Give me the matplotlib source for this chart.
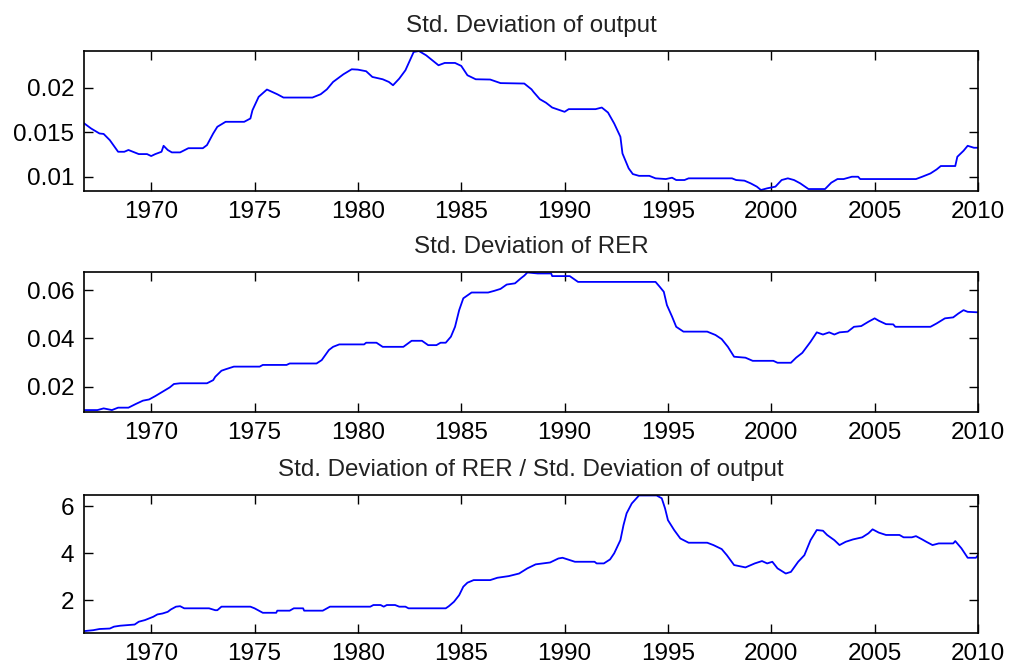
import matplotlib
matplotlib.use("Agg")
import matplotlib.pyplot as plt

# ---------------- data ----------------
titles = ["Std. Deviation of output",
          "Std. Deviation of RER",
          "Std. Deviation of RER / Std. Deviation of output"]

x_ticks = [1970, 1975, 1980, 1985, 1990, 1995, 2000, 2005, 2010]

out_years = [1966.75, 1967.1, 1967.5, 1967.7, 1968.0, 1968.4, 1968.7, 1968.9, 1969.4, 1969.8,
             1970.0, 1970.2, 1970.5, 1970.6, 1970.8, 1971.0, 1971.4, 1971.8, 1972.5, 1972.7,
             1973.0, 1973.2, 1973.6, 1974.5, 1974.8, 1974.9, 1975.2, 1975.6, 1976.1, 1976.4,
             1977.8, 1978.2, 1978.5, 1978.8, 1979.3, 1979.7, 1980.0, 1980.4, 1980.7, 1981.2,
             1981.5, 1981.7, 1982.0, 1982.3, 1982.7, 1982.95, 1983.3, 1983.6, 1983.9, 1984.2,
             1984.7, 1985.0, 1985.3, 1985.7, 1986.4, 1986.9, 1988.05, 1988.4, 1988.5, 1988.8,
             1989.1, 1989.4, 1990.0, 1990.2, 1991.5, 1991.8, 1992.1, 1992.4, 1992.7, 1992.8,
             1993.1, 1993.3, 1993.6, 1994.1, 1994.4, 1994.9, 1995.2, 1995.4, 1995.8, 1996.0,
             1998.1, 1998.3, 1998.7, 1999.0, 1999.3, 1999.5, 1999.8, 2000.2, 2000.5, 2000.8,
             2001.1, 2001.4, 2001.8, 2002.6, 2002.9, 2003.2, 2003.5, 2003.9, 2004.2, 2004.3,
             2007.0, 2007.3, 2007.7, 2008.0, 2008.2, 2008.9, 2009.0, 2009.3, 2009.5, 2009.8,
             2010.0]
out_std = [0.0160, 0.0154, 0.01485, 0.0148, 0.0141, 0.0128, 0.0128, 0.0130, 0.01254, 0.01254,
           0.01232, 0.01254, 0.0128, 0.01347, 0.0130, 0.01273, 0.01273, 0.0132, 0.0132, 0.01355,
           0.01485, 0.0156, 0.01616, 0.01616, 0.01653, 0.01746, 0.01896, 0.01978, 0.01925, 0.01888,
           0.01888, 0.01925, 0.0198, 0.02063, 0.02149, 0.02205, 0.02201, 0.02183, 0.02119, 0.02093,
           0.02063, 0.02026, 0.0210, 0.02194, 0.02399, 0.0241, 0.02362, 0.02306, 0.0225, 0.02276,
           0.02276, 0.02243, 0.02138, 0.02093, 0.02090, 0.02050, 0.02045, 0.0198, 0.0195, 0.0187,
           0.0183, 0.01776, 0.01728, 0.01758, 0.01758, 0.01776, 0.0172, 0.01597, 0.01448, 0.01261,
           0.01094, 0.0103, 0.0101, 0.0101, 0.00982, 0.00974, 0.00989, 0.00963, 0.00963, 0.00982,
           0.00982, 0.00963, 0.00956, 0.00926, 0.00889, 0.00851, 0.0087, 0.00889, 0.00963, 0.00982,
           0.00963, 0.00926, 0.00862, 0.00862, 0.00933, 0.00974, 0.00974, 0.0100, 0.0100, 0.00974,
           0.00974, 0.0100, 0.01037, 0.01082, 0.0112, 0.0112, 0.01224, 0.01291, 0.01347, 0.01325,
           0.01325]

rer_years = [1966.75, 1967.4, 1967.7, 1968.1, 1968.4, 1968.9, 1969.25, 1969.6, 1969.9, 1970.2,
             1970.55, 1970.9, 1971.1, 1971.4, 1972.7, 1973.0, 1973.1, 1973.4, 1973.6, 1974.0,
             1975.25, 1975.4, 1976.55, 1976.7, 1978.0, 1978.25, 1978.6, 1978.8, 1979.1, 1980.3,
             1980.4, 1980.9, 1981.2, 1982.2, 1982.6, 1983.1, 1983.4, 1983.8, 1984.0, 1984.25,
             1984.5, 1984.7, 1984.9, 1985.1, 1985.5, 1986.3, 1986.6, 1986.9, 1987.2, 1987.6,
             1987.9, 1988.05, 1988.2, 1988.7, 1989.35, 1989.4, 1990.25, 1990.65, 1994.4, 1994.6,
             1994.8, 1994.95, 1995.2, 1995.4, 1995.75, 1996.9, 1997.3, 1997.6, 1997.9, 1998.2,
             1998.75, 1999.1, 2000.1, 2000.3, 2000.95, 2001.2, 2001.5, 2001.9, 2002.2, 2002.5,
             2002.8, 2003.05, 2003.3, 2003.7, 2004.0, 2004.35, 2004.7, 2005.0, 2005.2, 2005.55,
             2005.9, 2006.0, 2007.7, 2008.0, 2008.4, 2008.8, 2009.05, 2009.3, 2009.5, 2010.0]
rer_std = [0.0103, 0.0103, 0.0110, 0.0103, 0.0113, 0.0113, 0.0128, 0.0142, 0.0147, 0.0161,
           0.0179, 0.0197, 0.0211, 0.0214, 0.0214, 0.0227, 0.0241, 0.0266, 0.0272, 0.0283,
           0.0283, 0.0290, 0.0290, 0.0296, 0.0296, 0.0310, 0.0352, 0.0365, 0.0375, 0.0375,
           0.0382, 0.0382, 0.0365, 0.0365, 0.0390, 0.0390, 0.0372, 0.0372, 0.0382, 0.0382,
           0.0407, 0.0448, 0.0517, 0.0566, 0.0590, 0.0590, 0.0597, 0.0605, 0.0623, 0.0628,
           0.0650, 0.0660, 0.0673, 0.0669, 0.0669, 0.0658, 0.0658, 0.0634, 0.0634, 0.0614,
           0.0593, 0.0538, 0.0490, 0.0448, 0.0428, 0.0428, 0.0414, 0.0397, 0.0365, 0.0324,
           0.0320, 0.0307, 0.0307, 0.0299, 0.0299, 0.0320, 0.0340, 0.0386, 0.0425, 0.0416,
           0.0425, 0.0416, 0.0425, 0.0428, 0.0448, 0.0451, 0.0469, 0.0483, 0.0473, 0.0459,
           0.0458, 0.0448, 0.0448, 0.0462, 0.0483, 0.0487, 0.0503, 0.0517, 0.0510, 0.0508]

ratio_years = [1966.75, 1967.2, 1967.5, 1968.0, 1968.2, 1968.5, 1969.2, 1969.4, 1969.7, 1970.1,
               1970.3, 1970.55, 1970.8, 1970.95, 1971.2, 1971.4, 1971.6, 1972.8, 1973.1, 1973.2,
               1973.4, 1974.8, 1975.0, 1975.4, 1976.05, 1976.1, 1976.7, 1976.9, 1977.35, 1977.4,
               1978.3, 1978.65, 1980.6, 1980.75, 1981.1, 1981.25, 1981.4, 1981.8, 1982.0, 1982.3,
               1982.45, 1984.25, 1984.4, 1984.65, 1984.9, 1985.1, 1985.3, 1985.6, 1986.4, 1986.75,
               1987.3, 1987.8, 1988.2, 1988.6, 1989.3, 1989.7, 1989.9, 1990.15, 1990.5, 1991.45,
               1991.55, 1991.9, 1992.2, 1992.4, 1992.7, 1992.85, 1993.0, 1993.25, 1993.6, 1994.45,
               1994.7, 1994.86, 1995.0, 1995.3, 1995.6, 1996.0, 1996.9, 1997.2, 1997.6, 1997.85,
               1998.2, 1998.75, 1999.2, 1999.55, 1999.8, 2000.05, 2000.3, 2000.7, 2000.95, 2001.3,
               2001.6, 2001.9, 2002.2, 2002.5, 2002.7, 2003.05, 2003.3, 2003.6, 2003.95, 2004.4,
               2004.7, 2004.9, 2005.2, 2005.55, 2006.2, 2006.4, 2006.8, 2007.0, 2007.3, 2007.5,
               2007.8, 2008.1, 2008.8, 2008.9, 2009.2, 2009.5, 2009.9, 2010.0]
ratio_vals = [0.68, 0.72, 0.77, 0.79, 0.87, 0.91, 0.96, 1.08, 1.15, 1.29,
              1.39, 1.43, 1.50, 1.60, 1.72, 1.74, 1.65, 1.65, 1.57, 1.57,
              1.72, 1.72, 1.65, 1.46, 1.46, 1.55, 1.55, 1.65, 1.65, 1.55,
              1.55, 1.72, 1.72, 1.79, 1.79, 1.72, 1.79, 1.79, 1.72, 1.72,
              1.65, 1.65, 1.74, 1.93, 2.21, 2.57, 2.74, 2.85, 2.85, 2.95,
              3.02, 3.13, 3.35, 3.52, 3.60, 3.77, 3.80, 3.73, 3.63, 3.63,
              3.56, 3.56, 3.73, 3.99, 4.55, 5.19, 5.69, 6.11, 6.45, 6.45,
              6.33, 5.90, 5.40, 4.98, 4.62, 4.44, 4.44, 4.34, 4.17, 3.91,
              3.49, 3.39, 3.56, 3.66, 3.56, 3.63, 3.35, 3.13, 3.20, 3.63,
              3.91, 4.55, 4.98, 4.95, 4.77, 4.55, 4.34, 4.48, 4.58, 4.67,
              4.84, 5.01, 4.87, 4.77, 4.77, 4.67, 4.67, 4.72, 4.58, 4.48,
              4.34, 4.41, 4.41, 4.51, 4.20, 3.80, 3.80, 3.91]

series = [(out_years, out_std), (rer_years, rer_std), (ratio_years, ratio_vals)]
y_ticks = [[0.01, 0.015, 0.02], [0.02, 0.04, 0.06], [2, 4, 6]]
y_tick_labels = [["0.01", "0.015", "0.02"], ["0.02", "0.04", "0.06"], ["2", "4", "6"]]
y_lims = [(0.0084, 0.0241), (0.0095, 0.0675), (0.60, 6.47)]
x_lim = (1966.75, 2010.0)

# ---------------- layout ----------------
W, H = 1009, 671
plt.rcParams["font.family"] = ["Liberation Sans", "DejaVu Sans"]
fig = plt.figure(figsize=(W / 100, H / 100), dpi=100)
fig.patch.set_facecolor("white")

boxes_px = [(84, 51, 978, 191), (84, 272, 978, 412), (84, 495, 978, 633)]

for i, (l, t, r, b) in enumerate(boxes_px):
    ax = fig.add_axes([l / W, 1 - b / H, (r - l) / W, (b - t) / H])
    xs, ys = series[i]
    ax.plot(xs, ys, color=(0, 0, 1), linewidth=1.3)
    ax.set_xlim(*x_lim)
    ax.set_ylim(*y_lims[i])
    ax.set_xticks(x_ticks)
    ax.set_xticklabels([str(v) for v in x_ticks])
    ax.set_yticks(y_ticks[i])
    ax.set_yticklabels(y_tick_labels[i])
    ax.tick_params(direction="in", length=6.5, width=1.0, top=True, right=True,
                   labelsize=17.5, colors="black", pad=7)
    ax.tick_params(axis="y", pad=7)
    for s in ax.spines.values():
        s.set_linewidth(1.2)
        s.set_color("black")
    ax.set_title(titles[i], fontsize=17.4, pad=14, color="#222222")

fig.savefig("out.png", dpi=100, facecolor="white")
